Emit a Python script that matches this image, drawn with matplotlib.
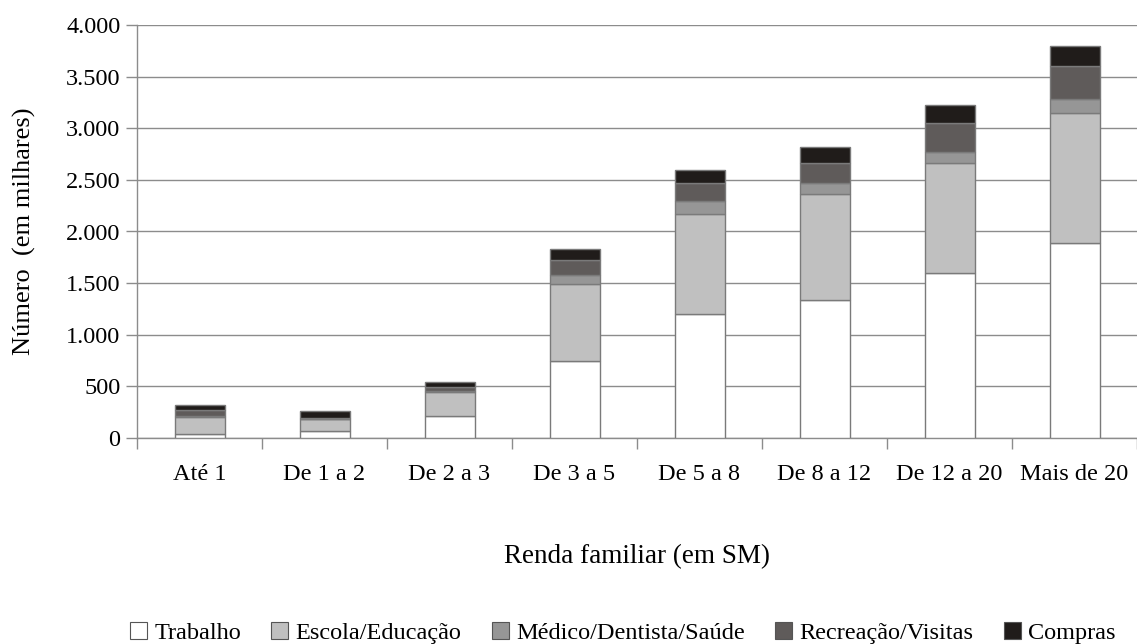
import numpy as np
from matplotlib import pyplot as plt

# categories (renda familiar em salários mínimos)
categorias = ['Até 1', 'De 1 a 2', 'De 2 a 3', 'De 3 a 5', 'De 5 a 8',
              'De 8 a 12', 'De 12 a 20', 'Mais de 20']

# viagens por motivo, em milhares
trabalho = [40, 70, 215, 750, 1200, 1340, 1600, 1885]
escola = [165, 110, 230, 740, 965, 1020, 1065, 1260]
medico = [10, 5, 10, 90, 130, 105, 105, 135]
recreacao = [55, 5, 35, 145, 170, 195, 285, 320]
compras = [45, 75, 55, 105, 130, 160, 175, 200]

series = [
    ('Trabalho', trabalho, '#ffffff'),
    ('Escola/Educação', escola, '#c0c0c0'),
    ('Médico/Dentista/Saúde', medico, '#969696'),
    ('Recreação/Visitas', recreacao, '#5f5b5a'),
    ('Compras', compras, '#201c1a'),
]

plt.rcParams['font.family'] = 'serif'
plt.rcParams['font.serif'] = ['Liberation Serif', 'DejaVu Serif']

fig = plt.figure(figsize=(11.37, 6.44), dpi=100)
ax = fig.add_axes([137 / 1137, 1 - 438 / 644, 1 - 137 / 1137, 413 / 644])

x = np.arange(len(categorias))
bottom = np.zeros(len(categorias))
for nome, valores, cor in series:
    ax.bar(x, valores, width=0.4, bottom=bottom, color=cor,
           edgecolor='#7a7a7a', linewidth=1.0, label=nome, zorder=3)
    bottom += np.array(valores)

ax.set_xlim(-0.5, len(categorias) - 0.5)
ax.set_ylim(0, 4000)
ax.set_yticks(np.arange(0, 4001, 500))
ax.set_yticklabels(['{:,}'.format(v).replace(',', '.') for v in range(0, 4001, 500)])
ax.yaxis.grid(True, color='#8c8c8c', linewidth=1.0, zorder=0)

ax.set_xticks(x)
ax.set_xticklabels(categorias)
ax.set_xticks(np.arange(-0.5, len(categorias), 1.0), minor=True)
ax.tick_params(axis='x', which='major', length=0, pad=19, labelsize=17.5)
ax.tick_params(axis='x', which='minor', length=8, color='#8c8c8c', width=1.0)
ax.tick_params(axis='y', length=8, color='#8c8c8c', width=1.0, pad=4, labelsize=17.5)

for s in ['top', 'right']:
    ax.spines[s].set_visible(False)
for s in ['left', 'bottom']:
    ax.spines[s].set_color('#8c8c8c')
    ax.spines[s].set_linewidth(1.0)

ax.set_ylabel('Número  (em milhares)', fontsize=19)
ax.yaxis.set_label_coords(-0.101, 0.5)
ax.set_xlabel('Renda familiar (em SM)', fontsize=19.5)
ax.xaxis.set_label_coords(0.5, -0.258)

leg = fig.legend(loc='center', bbox_to_anchor=(623 / 1137, 1 - 633 / 644), ncol=5,
                 frameon=False, fontsize=17.5, handlelength=0.7, handleheight=0.7,
                 handletextpad=0.3, columnspacing=1.25, borderpad=0.1)
for h in leg.legend_handles:
    h.set_edgecolor('#555555')
    h.set_linewidth(0.8)

fig.savefig('out.png', dpi=100)
